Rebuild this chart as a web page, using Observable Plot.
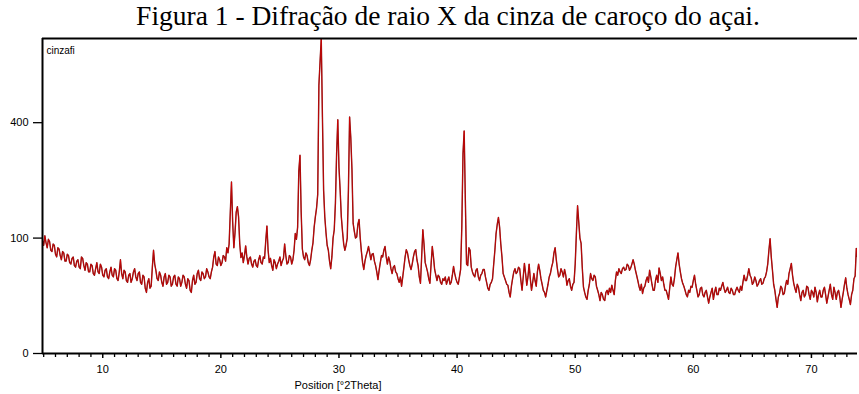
<!DOCTYPE html>
<html><head><meta charset="utf-8">
<script src="https://cdn.jsdelivr.net/npm/d3@7"></script>
<script src="https://cdn.jsdelivr.net/npm/@observablehq/plot@0.6"></script>
<style>
body{margin:0;background:#fff;}
#title{height:36px;box-sizing:border-box;padding:0 0 0 37px;font:27.5px "Liberation Serif","Times New Roman",serif;line-height:31px;text-align:center;white-space:nowrap;width:859px;overflow:visible;color:#000;}
#chart svg{display:block;}
</style></head><body>
<div id="title"></div>
<div id="chart"></div>
<script>
const titleText = "Figura 1 - Difração de raio X da cinza de caroço do açai.";
const sampleName = "cinzafi";
const xLabel = "Position [°2Theta]";
const startAngle = 4.9;   // first 2θ of the scan
const stepAngle = 0.1;    // scan step
const yMax = 745;
const xMin = 4.9, xMax = 73.9;
const yTicks = [0, 100, 400];
const xMajorTicks = [10, 20, 30, 40, 50, 60, 70];
const xMinorTicks = [5,6,7,8,9,11,12,13,14,15,16,17,18,19,21,22,23,24,25,26,27,28,29,31,32,33,34,35,36,37,38,39,41,42,43,44,45,46,47,48,49,51,52,53,54,55,56,57,58,59,61,62,63,64,65,66,67,68,69,71,72,73];

// counts, 4.9–14.8 °2θ
const counts_a = [
95,88,104,92,84,98,94,80,78,90,88,74,70,84,82,72,66,78,76,64,
64,74,72,62,60,68,70,58,56,64,66,56,54,70,68,58,52,62,60,50,
50,60,58,48,46,54,62,50,48,60,56,46,44,52,54,44,42,50,56,46,
44,54,52,42,40,50,66,48,42,52,50,40,38,46,48,38,42,50,54,44,
40,48,50,38,36,46,44,32,28,38,42,32,34,56,80,60,52,42,40,50];
// 14.9–24.8
const counts_b = [
46,38,34,44,48,36,38,46,44,34,36,44,46,36,34,44,42,34,38,46,
44,36,32,42,40,30,28,40,46,36,38,48,52,42,40,50,48,42,44,54,
50,44,42,50,56,70,78,60,58,70,66,58,62,72,70,64,84,76,90,150,
221,130,84,110,150,162,140,90,69,76,62,72,87,70,60,68,70,60,56,64,
66,58,56,66,72,62,60,70,68,95,122,80,62,68,58,52,66,62,54,60];
// 24.9–34.8
const counts_c = [
64,70,58,64,68,90,72,60,62,72,70,60,66,80,108,98,120,250,295,150,
82,70,66,76,72,62,58,66,80,92,120,140,158,190,540,640,745,420,200,140,
110,88,80,64,54,70,100,115,170,300,410,260,200,140,112,90,80,88,100,200,
420,350,254,127,112,100,102,125,135,100,78,62,53,64,72,78,86,76,66,74,
75,64,58,50,41,52,62,72,70,80,86,70,60,70,64,54,48,56,58,50];
// 34.9–44.8
const counts_d = [
48,42,38,44,34,44,56,70,81,76,66,58,53,60,70,78,81,66,58,44,
37,70,115,90,62,56,50,42,37,60,86,70,53,46,40,46,44,38,36,42,
40,44,36,40,44,36,38,46,57,48,42,38,36,44,53,120,300,372,175,60,
58,84,80,56,50,46,44,52,54,44,40,46,48,53,53,44,38,32,30,36,
38,42,60,80,108,125,139,120,90,70,48,44,40,36,35,28,24,34,42,50];
// 44.9–54.8
const counts_e = [
54,48,50,56,54,40,30,44,61,48,35,44,60,42,30,38,48,40,34,50,
60,52,42,36,30,28,24,30,36,44,48,56,62,76,84,66,53,44,46,54,
50,44,53,46,35,40,42,34,30,36,38,60,108,164,130,100,91,55,33,28,
24,22,30,36,48,42,40,46,44,34,30,26,21,28,26,22,21,28,30,26,
32,28,35,30,26,40,50,46,54,50,48,54,56,52,53,60,58,52,55,60];
// 54.9–64.8
const counts_f = [
66,60,52,46,40,34,30,36,27,32,34,40,44,38,52,44,36,30,30,40,
46,38,55,48,40,44,36,30,30,26,22,32,44,36,34,42,56,66,76,60,
50,42,37,34,30,26,24,30,28,34,33,40,46,36,30,24,26,32,33,26,
24,28,30,24,19,24,28,32,22,28,33,26,26,32,30,34,38,32,28,30,
33,28,27,32,30,26,26,30,33,30,28,34,30,38,46,40,40,46,54,46];
// 64.9–73.9
const counts_g = [
43,36,38,44,40,34,36,40,42,36,37,42,44,50,60,80,99,70,52,36,
30,22,16,24,27,34,32,26,27,34,40,36,48,54,61,46,37,32,28,36,
33,26,21,28,30,24,26,34,33,26,22,30,28,24,33,28,20,26,30,24,
24,30,33,26,19,24,30,36,26,22,33,28,22,28,30,24,16,22,28,36,
43,32,26,22,18,26,30,42,45,83,70];

const counts = [...counts_a, ...counts_b, ...counts_c, ...counts_d, ...counts_e, ...counts_f, ...counts_g];
const scan = counts.map((c, i) => ({angle: +(startAngle + i * stepAngle).toFixed(1), counts: c}));

document.getElementById("title").textContent = titleText;

const chart = Plot.plot({
  width: 859, height: 358,
  marginTop: 2, marginLeft: 42, marginRight: 2, marginBottom: 41,
  x: {domain: [xMin, xMax]},
  y: {type: "sqrt", domain: [0, yMax]},
  style: {fontFamily: "'Liberation Sans', Arial, sans-serif", fontSize: "11px", color: "#000", background: "#fff"},
  marks: [
    Plot.line(scan, {x: "angle", y: "counts", stroke: "#7a1414", strokeWidth: 1.4, clip: true}),
    Plot.line(scan, {x: "angle", y: "counts", stroke: "#e60000", strokeWidth: 0.6, clip: true}),
    Plot.axisY({ticks: yTicks, tickSize: 9, tickPadding: 5, label: null, strokeWidth: 1.3, fontSize: 11}),
    Plot.axisX({ticks: xMinorTicks, tickSize: 4, tickFormat: () => "", label: null, strokeWidth: 1.3}),
    Plot.axisX({ticks: xMajorTicks, tickSize: 5, tickPadding: 7, label: null, strokeWidth: 1.5, fontSize: 11}),
    Plot.ruleY([0], {stroke: "#000", strokeWidth: 2}),
    Plot.ruleY([yMax], {stroke: "#000", strokeWidth: 2}),
    Plot.ruleX([xMin], {stroke: "#000", strokeWidth: 2}),
    Plot.text([sampleName], {frameAnchor: "top-left", dx: 4, dy: 8.5, fontSize: 10, textAnchor: "start"}),
    Plot.text([xLabel], {frameAnchor: "bottom", dx: -112, dy: 35, fontSize: 11})
  ]
});
document.getElementById("chart").appendChild(chart);
</script>
</body></html>
